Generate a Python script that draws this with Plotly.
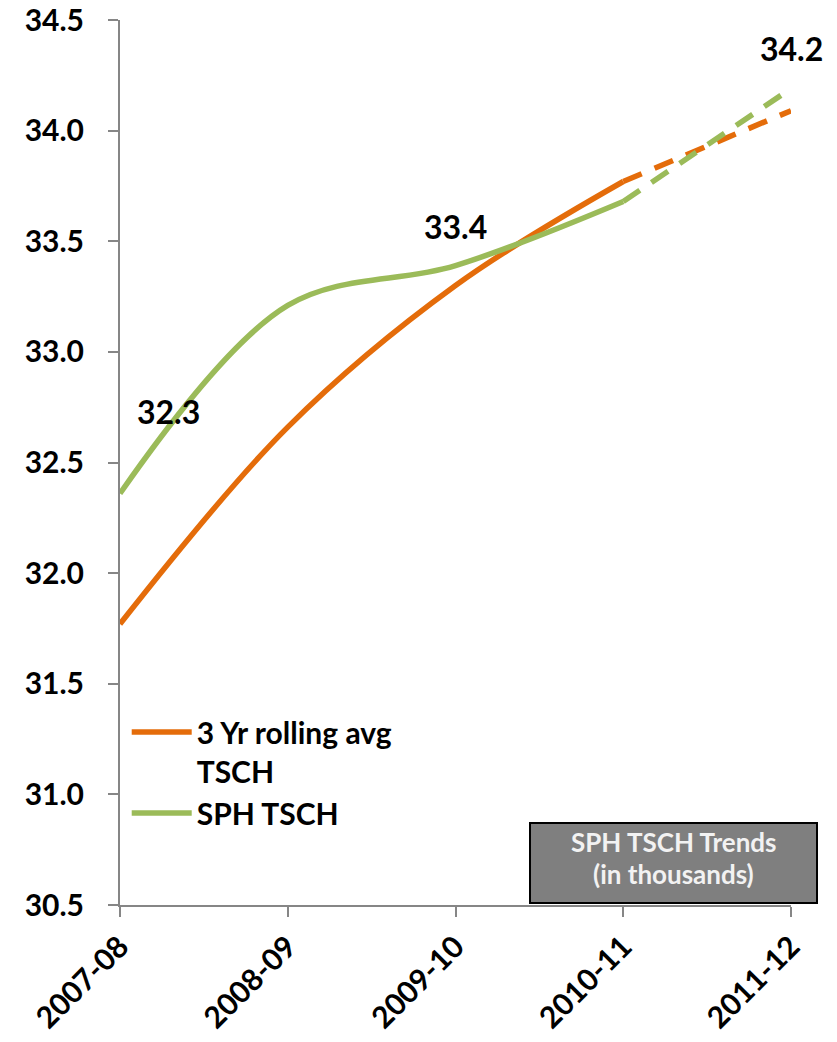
import plotly.graph_objects as go

categories = ["2007-08", "2008-09", "2009-10", "2010-11", "2011-12"]
rolling_avg = [31.77, 32.66, 33.30, 33.77, 34.09]
sph_tsch = [32.36, 33.21, 33.39, 33.68, 34.19]
label_idx = [0, 2, 4]
label_text = ["32.3", "33.4", "34.2"]
label_shift = [(48, 82), (0, 39), (0, 40)]
box_lines = ["SPH TSCH Trends", "(in thousands)"]

ORANGE = "#E46C0A"
GREEN = "#9BBB59"
FONT = "Lato"

fig = go.Figure()
# solid parts
fig.add_trace(go.Scatter(x=categories[:4], y=rolling_avg[:4], mode="lines",
                         line=dict(color=ORANGE, width=5.5, shape="spline"),
                         name="3 Yr rolling avg<br>TSCH"))
fig.add_trace(go.Scatter(x=categories[:4], y=sph_tsch[:4], mode="lines",
                         line=dict(color=GREEN, width=5.5, shape="spline"),
                         name="SPH TSCH"))
# dashed projections
fig.add_trace(go.Scatter(x=categories[3:], y=rolling_avg[3:], mode="lines",
                         line=dict(color=ORANGE, width=5.5, dash="20px,14px"),
                         showlegend=False))
fig.add_trace(go.Scatter(x=categories[3:], y=sph_tsch[3:], mode="lines",
                         line=dict(color=GREEN, width=5.5, dash="20px,14px"),
                         showlegend=False))

for i, t, (dx, dy) in zip(label_idx, label_text, label_shift):
    fig.add_annotation(x=categories[i], y=sph_tsch[i], text=t, showarrow=False,
                       xshift=dx, yshift=dy,
                       font=dict(family=FONT, size=32, color="black", weight="bold"))

# plot area in page px: x 120..791, y 20..905
def px_x(p):
    return (p - 120) / 671

def px_y(p):
    return (905 - p) / 885

fig.add_shape(type="rect", xref="paper", yref="paper",
              x0=px_x(530), x1=px_x(817), y0=px_y(903), y1=px_y(823),
              fillcolor="#7F7F7F", line=dict(color="black", width=2), layer="above")
for txt, yc in zip(box_lines, [842, 874]):
    fig.add_annotation(xref="paper", yref="paper", x=px_x(673.5), y=px_y(yc),
                       xanchor="center", yanchor="middle", text=txt, showarrow=False,
                       font=dict(family=FONT, size=26, color="#F2F2F2", weight="bold"))

fig.update_layout(
    width=837, height=1042,
    margin=dict(l=120, r=46, t=20, b=137),
    plot_bgcolor="white", paper_bgcolor="white",
    font=dict(family=FONT, size=30, color="black", weight="bold"),
    legend=dict(x=0.01, y=0.225, xanchor="left", yanchor="top",
                bgcolor="rgba(0,0,0,0)", font=dict(size=30, weight="bold"),
                valign="top", tracegroupgap=0, itemwidth=60),
    xaxis=dict(type="category", range=[0, 4], showgrid=False, showline=True,
               linecolor="#868686", linewidth=2, ticks="outside", ticklen=10,
               tickcolor="#868686", tickwidth=2, tickangle=-45, automargin=False,
               ticklabeloverflow="allow",
               tickfont=dict(family=FONT, size=30, weight="bold")),
    yaxis=dict(range=[30.5, 34.5], dtick=0.5, tickformat=".1f", showgrid=False,
               showline=True, linecolor="#868686", linewidth=2, ticks="outside",
               ticklen=10, tickcolor="#868686", tickwidth=2, zeroline=False,
               automargin=False, ticklabelstandoff=18, ticklabeloverflow="allow",
               tickfont=dict(family=FONT, size=30, weight="bold")),
)

fig.write_html("out.html", config={"displayModeBar": False},
               post_script="document.body.style.margin='0';document.body.style.padding='0';")
